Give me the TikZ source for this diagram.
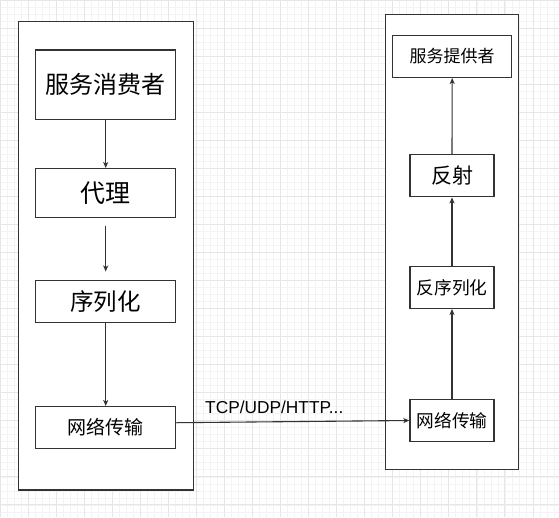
\documentclass[tikz,border=0pt]{standalone}
\usepackage{fontspec}
\setmainfont{Liberation Sans}
\newfontfamily\cjk{Noto Sans CJK SC}
\usetikzlibrary{arrows.meta}
\definecolor{gridmajor}{HTML}{E6E6E6}
\definecolor{gridminor}{HTML}{F3F3F3}
\definecolor{ink}{HTML}{333333}
\newcommand{\fs}[1]{\fontsize{#1}{#1}\selectfont}
\tikzset{
  container/.style={draw=ink, fill=white, line width=1.3pt},
  stepbox/.style={draw=ink, fill=white, line width=1.3pt, inner sep=0pt,
    align=center, font=\cjk},
  flow/.style={draw=ink, line width=1.1pt,
    -{Stealth[length=6pt,width=5pt,inset=1.5pt]}},
  gridminorline/.style={draw=gridminor, line width=0.7pt},
  gridmajorline/.style={draw=gridmajor, line width=0.9pt},
}
\begin{document}
\begin{tikzpicture}[x=1pt,y=-1pt]
  % canvas and background grid
  \useasboundingbox (0,0) rectangle (559,517);
  \fill[white] (0,0) rectangle (559,517);
  \foreach \i in {0,...,80} {
    \draw[gridminorline] (\i*7.0125,0) -- (\i*7.0125,517);
  }
  \foreach \i in {0,...,74} {
    \draw[gridminorline] (0,\i*7.0125) -- (559,\i*7.0125);
  }
  \foreach \i in {0,...,20} {
    \draw[gridmajorline] (\i*28.05,0) -- (\i*28.05,517);
  }
  \foreach \i in {0,...,18} {
    \draw[gridmajorline] (0,\i*28.05) -- (559,\i*28.05);
  }

  % consumer side
  \draw[container] (18.3,21.7) rectangle (193.3,490);
  \node[stepbox, minimum width=140pt, minimum height=69.3pt] (consumer)
    at (105.7,84.7) {\fs{24}服务消费者};
  \node[stepbox, minimum width=140pt, minimum height=49pt] (proxy)
    at (105.7,193.2) {\fs{25}代理};
  \node[stepbox, minimum width=140pt, minimum height=41.6pt] (serial)
    at (105.7,301.5) {\fs{23.5}序列化};
  \node[stepbox, minimum width=140pt, minimum height=41.6pt] (lnet)
    at (105.7,427.5) {\fs{19}网络传输};

  % provider side
  \draw[container] (385.7,14.7) rectangle (518.7,469.3);
  \node[stepbox, minimum width=119pt, minimum height=41.6pt] (provider)
    at (452.2,56.5) {\fs{17}服务提供者};
  \node[stepbox, minimum width=84pt, minimum height=42pt] (reflect)
    at (452,175.7) {\fs{21}反射};
  \node[stepbox, minimum width=84pt, minimum height=42pt] (deser)
    at (452,287.3) {\fs{17.7}反序列化};
  \node[stepbox, minimum width=84pt, minimum height=42.4pt] (rnet)
    at (452,420.5) {\fs{17.7}网络传输};

  % call chain on the consumer side
  \draw[flow] (consumer.south) -- (proxy.north);
  \draw[flow, shorten <=7.3pt, shorten >=8.5pt] (proxy.south) -- (serial.north);
  \draw[flow] (serial.south) -- (lnet.north);

  % transport between the two sides
  \coordinate (lout) at ([yshift=4.8pt]lnet.east);
  \draw[flow] (lout) -- (rnet.west);
  \node[anchor=base west, inner sep=0pt, font=\fs{17.3}] (proto)
    at (205,413.3) {TCP/UDP/HTTP...};

  % handling chain on the provider side
  \draw[flow] (rnet.north) -- (deser.south);
  \draw[flow] (deser.north) -- (reflect.south);
  \draw[flow] (reflect.north) -- (provider.south);
\end{tikzpicture}
\end{document}
